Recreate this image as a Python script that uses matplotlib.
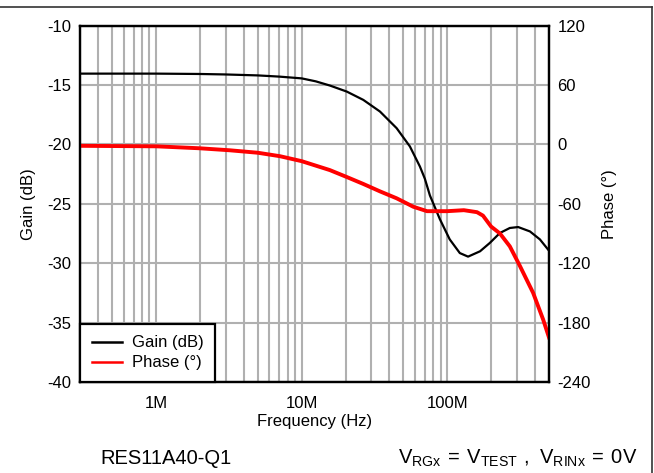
import matplotlib
matplotlib.use('Agg')
import matplotlib.pyplot as plt
from matplotlib.ticker import FixedLocator, LogLocator, NullFormatter
from matplotlib.lines import Line2D
import numpy as np

plt.rcParams['font.family'] = ['Liberation Sans', 'DejaVu Sans']
plt.rcParams['mathtext.fontset'] = 'custom'
plt.rcParams['mathtext.rm'] = 'Liberation Sans'
plt.rcParams['axes.unicode_minus'] = False

# Gain curve (Hz, dB)
gain_freq = [3e5, 1e6, 2e6, 3e6, 5e6, 7e6, 1e7, 1.25e7, 1.56e7, 2.04e7, 2.65e7,
             3.45e7, 4.49e7, 5.54e7, 6.49e7, 7.02e7, 7.6e7, 8.9e7, 1.04e8,
             1.22e8, 1.39e8, 1.68e8, 1.96e8, 2.3e8, 2.69e8, 3.07e8, 3.7e8,
             4.33e8, 5.0e8]
gain_db = [-14.05, -14.05, -14.08, -14.12, -14.2, -14.3, -14.45, -14.7, -15.05,
           -15.56, -16.26, -17.24, -18.64, -20.18, -21.87, -22.9, -24.3, -26.3,
           -28.0, -29.15, -29.45, -29.0, -28.3, -27.46, -27.04, -26.96, -27.33,
           -28.0, -28.95]

# Phase curve (Hz, degrees)
phase_freq = [3e5, 1e6, 2e6, 3.2e6, 5e6, 7.1e6, 1e7, 1.56e7, 2.04e7, 2.65e7,
              3.45e7, 4.49e7, 5.84e7, 7.26e7, 1e8, 1.3e8, 1.6e8, 1.76e8, 2e8,
              2.3e8, 2.69e8, 3.16e8, 3.89e8, 4.56e8, 5.0e8]
phase_deg = [-1.5, -2.0, -4.0, -6.0, -8.5, -12.0, -17.0, -26.0, -33.0, -40.0,
             -47.5, -54.5, -63.0, -67.5, -67.5, -66.5, -68.5, -72.0, -83.0,
             -90.0, -103.0, -123.0, -150.0, -177.0, -195.0]

x_ticks = [1e6, 1e7, 1e8]
x_labels = ['1M', '10M', '100M']
gain_ticks = [-10, -15, -20, -25, -30, -35, -40]
phase_ticks = [120, 60, 0, -60, -120, -180, -240]

fig = plt.figure(figsize=(6.54, 4.73), dpi=100)
ax = fig.add_axes([80 / 654, 1 - 382 / 473, 469 / 654, 356.5 / 473])
ax2 = ax.twinx()

ax.plot(gain_freq, gain_db, color='black', lw=1.6)
ax2.plot(phase_freq, phase_deg, color='#ff0000', lw=2.8)

ax.set_xscale('log')
ax.set_xlim(3e5, 5e8)
ax.set_ylim(-40, -10)
ax2.set_ylim(-240, 120)

ax.xaxis.set_major_locator(FixedLocator(x_ticks))
ax.set_xticklabels(x_labels)
ax.xaxis.set_minor_locator(LogLocator(base=10, subs=np.arange(2, 10)))
ax.xaxis.set_minor_formatter(NullFormatter())
ax.set_yticks(gain_ticks)
ax2.set_yticks(phase_ticks)

ax.grid(True, which='both', color='#b0b0b0', lw=1.5)
ax.set_axisbelow(True)

fs = 12
ax.tick_params(axis='x', which='both', length=0, pad=10, labelsize=fs)
ax.tick_params(axis='y', length=0, pad=6, labelsize=fs)
ax2.tick_params(axis='y', length=0, pad=6, labelsize=fs)

for a in (ax, ax2):
    for s in a.spines.values():
        s.set_linewidth(1.6)
        s.set_color('black')

ax.set_xlabel('Frequency (Hz)', fontsize=fs, labelpad=2)
ax.set_ylabel('Gain (dB)', fontsize=fs, labelpad=8)
ax2.set_ylabel('Phase (°)', fontsize=fs, labelpad=8)

handles = [Line2D([], [], color='black', lw=1.8),
           Line2D([], [], color='#ff0000', lw=1.8)]
leg = ax2.legend(handles, ['Gain (dB)', 'Phase (°)'], loc='lower left',
                 borderaxespad=0, fancybox=False, framealpha=1,
                 edgecolor='black', fontsize=fs, handlelength=1.8,
                 borderpad=0.7, labelspacing=0.3, handletextpad=0.6)
leg.get_frame().set_linewidth(1.6)

fig.text(100 / 654, 1 - 458 / 473, 'RES11A40-Q1', fontsize=14.5,
         ha='left', va='center')
fig.text(637 / 654, 1 - 458 / 473,
         r'$\mathregular{V_{RGx}\,=\,V_{TEST}\ ,\ V_{RINx}\,=\,0V}$',
         fontsize=14.5, ha='right', va='center')

# page frame (top and right edges)
fig.add_artist(Line2D([0, 652 / 654], [1 - 7 / 473, 1 - 7 / 473],
                      transform=fig.transFigure, color='#333333', lw=1.2))
fig.add_artist(Line2D([652 / 654, 652 / 654], [0, 1 - 7 / 473],
                      transform=fig.transFigure, color='#333333', lw=1.2))

fig.savefig('out.png', dpi=100)
